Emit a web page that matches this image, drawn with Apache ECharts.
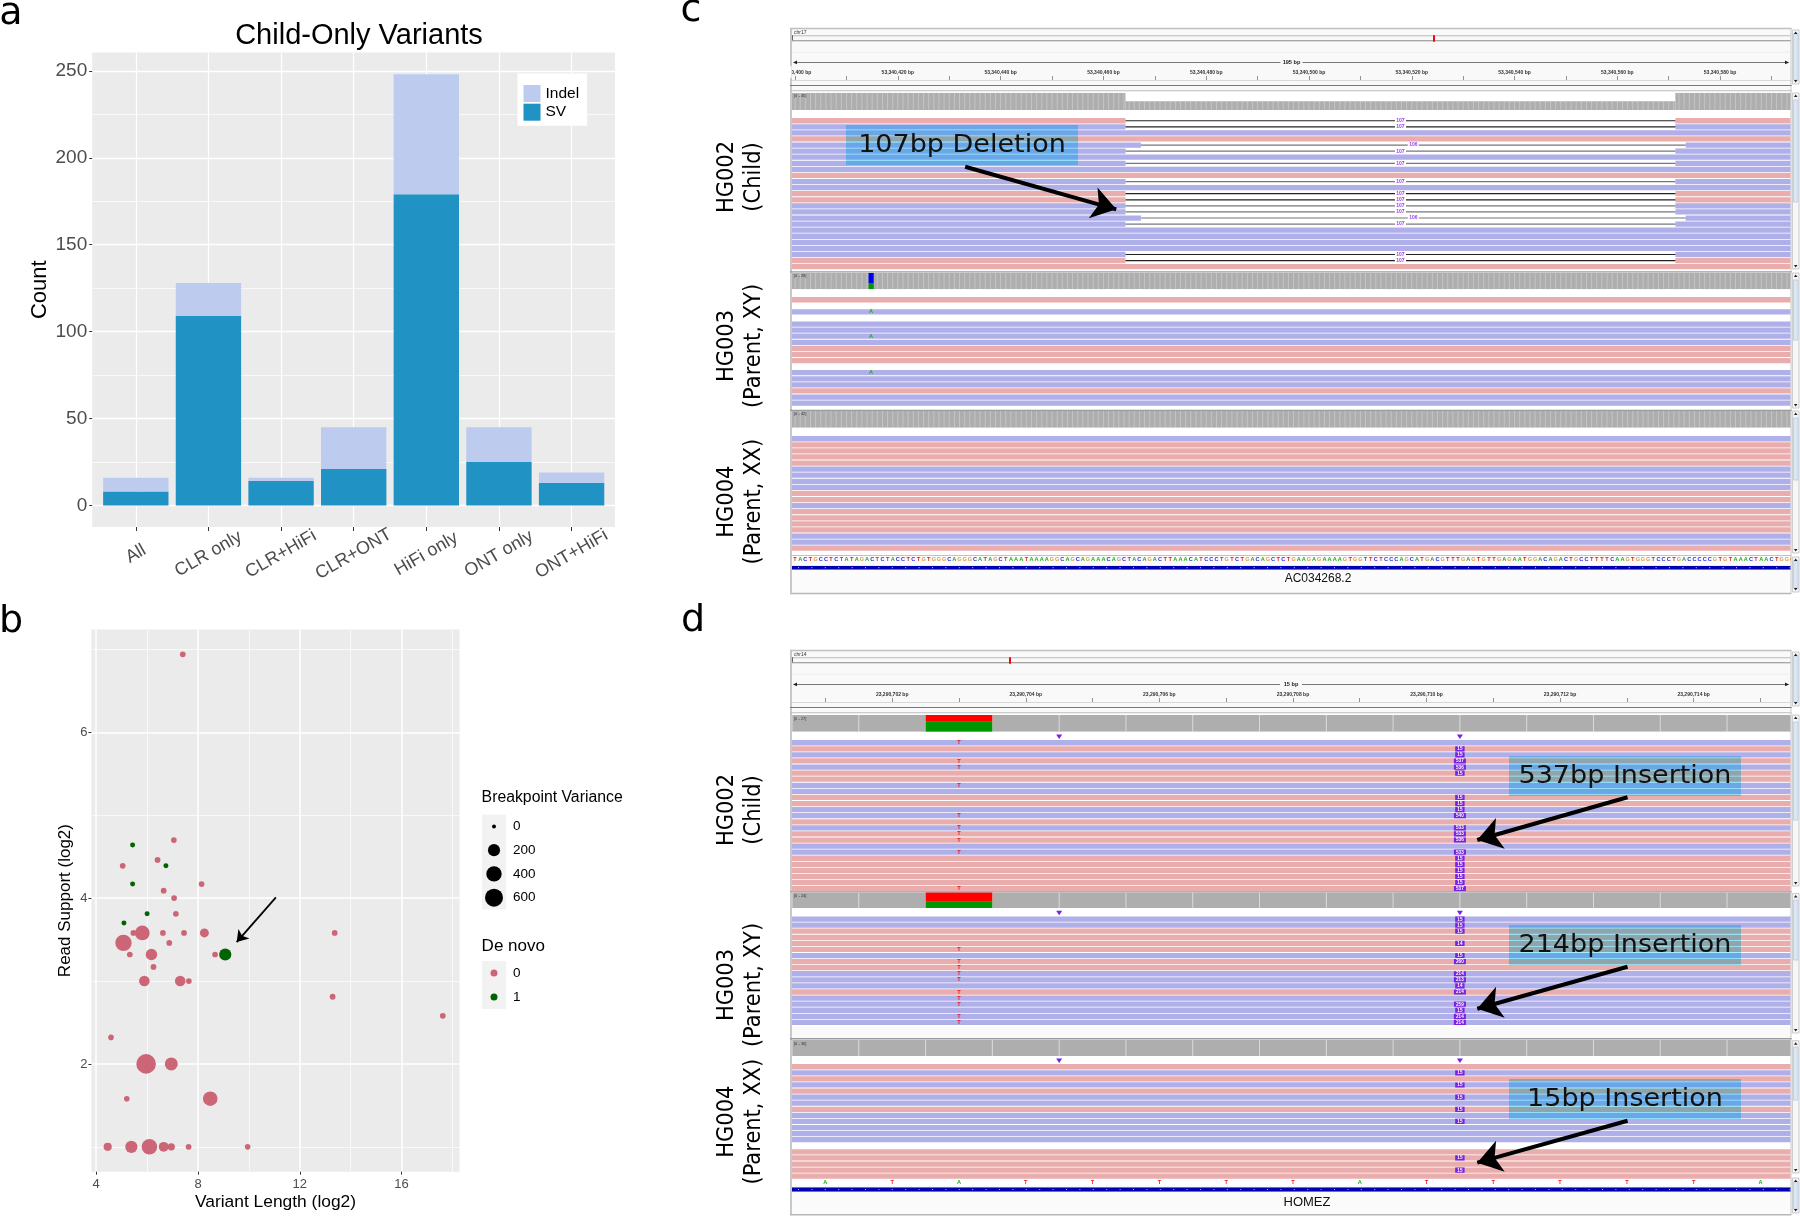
<!DOCTYPE html>
<html>
<head>
<meta charset="utf-8">
<title>Child-only variants</title>
<script src="https://cdn.jsdelivr.net/npm/echarts@6/dist/echarts.min.js"></script>
<style>
  html, body { margin: 0; background: #fff; }
  #chart { width: 1800px; height: 1216px; }
</style>
</head>
<body>
<div id="chart"></div>
<script>
// panel a
const categories = ["All", "CLR only", "CLR+HiFi", "CLR+ONT", "HiFi only", "ONT only", "ONT+HiFi"];
const svCounts = [8, 109, 14, 21, 179, 25, 13];
const indelCounts = [8, 19, 2, 24, 69, 20, 6];
const countTicks = [0, 50, 100, 150, 200, 250];
const countMinor = [25, 75, 125, 175, 225];

// panel b: [variant length log2, read support log2, breakpoint variance]
const notDeNovo = [
  [7.40, 6.94, 9], [7.05, 4.70, 9], [6.41, 4.46, 9], [5.04, 4.39, 9], [8.14, 4.17, 9],
  [6.65, 4.09, 9], [7.06, 4.00, 9], [7.13, 3.81, 9], [5.46, 3.58, 9], [5.81, 3.58, 350],
  [6.62, 3.58, 9], [7.45, 3.58, 9], [8.25, 3.58, 76], [13.37, 3.58, 9], [6.87, 3.46, 9],
  [5.07, 3.46, 463], [5.32, 3.32, 9], [6.17, 3.32, 168], [8.67, 3.32, 9], [6.25, 3.17, 9],
  [5.89, 3.00, 133], [7.30, 3.00, 133], [7.64, 3.00, 9], [13.29, 2.81, 10], [17.62, 2.58, 9],
  [4.58, 2.32, 8], [5.96, 2.00, 745], [6.95, 2.00, 248], [5.20, 1.58, 8], [8.48, 1.58, 337],
  [4.45, 1.00, 54], [5.38, 1.00, 206], [6.09, 1.00, 405], [6.65, 1.00, 103], [6.95, 1.00, 33],
  [7.63, 1.00, 9], [9.95, 1.00, 8]
];
const deNovo = [
  [5.43, 4.64, 3], [6.74, 4.39, 3], [5.43, 4.17, 3], [6.00, 3.81, 3], [5.09, 3.70, 3], [9.07, 3.32, 206]
];
const lengthTicks = [4, 8, 12, 16];
const lengthMinor = [6, 10, 14, 18];
const supportTicks = [2, 4, 6];
const supportMinor = [1, 3, 5, 7];
const varianceKeys = [0, 200, 400, 600];
const deNovoKeys = ["0", "1"];

// panel c: rows by strand, p = forward, b = reverse, . = empty row
const c002Rows = "pbbpbbbbbpbbppbbbbbbbbbpp";
const c003Rows = "p.b.bbbbppp.bbbpbb";
const c004Rows = "bppppbbbbppbppppbbp";
// [row, start, end, length]
const c002Dels = [
  [0, 464.3, 571.3, 107], [1, 464.3, 571.3, 107], [4, 467.3, 573.3, 106], [5, 464.3, 571.3, 107],
  [7, 464.3, 571.3, 107], [10, 464.3, 571.3, 107], [12, 464.3, 571.3, 107], [13, 464.3, 571.3, 107],
  [14, 464.3, 571.3, 107], [15, 464.3, 571.3, 107], [16, 467.3, 573.3, 106], [17, 464.3, 571.3, 107],
  [22, 464.3, 571.3, 107], [23, 464.3, 571.3, 107]
];
const c002LowMapq = [4, 5, 7, 10, 14, 15, 16, 17];
const c003Mismatch = [2, 6, 12];
// coverage: [start, end, from, to, base]
const c002Cover = [[399.4, 464.3, 0, 45, "N"], [464.3, 571.3, 0, 23, "N"], [571.3, 593.7, 0, 45, "N"]];
const c003Cover = [[399.4, 593.7, 0, 28, "N"], [414.3, 415.3, 0, 10, "A"], [414.3, 415.3, 10, 28, "C"]];
const c004Cover = [[399.4, 593.7, 0, 42, "N"]];
const cLabels = [400, 420, 440, 460, 480, 500, 520, 540, 560, 580];
const cTicks = [400, 410, 420, 430, 440, 450, 460, 470, 480, 490, 500, 510, 520, 530, 540, 550, 560, 570, 580, 590];
const cSequence = "TACTGCCTCTATAGACTCTACCTCTGTGGGCAGGGCATAGCTAAATAAAAGGCAGCAGAAACAGCTACAGACTTAAACATCCCTGTCTGACAGCTCTGAAGAGAAAAGTGGTTCTCCCAGCATGACGTTTGAGTGTTGAGAATGGACAGACTGCCTTTTCAAGTGGGTCCCTGACCCCCGTGTAAACTAACTGGG";

// panel d
const d002Rows = "bpbpbppbbppbbpbppbbpppppp";
const d003Rows = "bbppppbppbbbpbbbbb";
const d004Rows = "pbpbpbbpbbbbb.ppppp";
// [row, inserted bases]
const d002Ins = [
  [1, 15], [2, 15], [3, 537], [4, 536], [5, 15], [9, 15], [10, 15], [11, 15], [12, 540], [14, 533],
  [15, 533], [16, 536], [18, 533], [19, 15], [20, 15], [21, 15], [22, 15], [23, 15], [24, 537]
];
const d003Ins = [
  [0, 15], [1, 15], [2, 15], [4, 14], [6, 15], [7, 260], [9, 214], [10, 213], [11, 14], [12, 214],
  [14, 259], [15, 15], [16, 214], [17, 214]
];
const d004Ins = [[1, 15], [3, 15], [5, 15], [7, 15], [9, 15], [15, 15], [17, 15]];
const d002Mismatch = [0, 3, 4, 7, 12, 14, 15, 16, 18, 24];
const d003Mismatch = [5, 7, 8, 9, 10, 12, 13, 14, 16, 17];
const d002Cover = [[700.5, 715.45, 0, 27, "N"], [702.5, 703.5, 0, 17, "A"], [702.5, 703.5, 17, 27, "T"]];
const d003Cover = [[700.5, 715.45, 0, 24, "N"], [702.5, 703.5, 0, 10, "A"], [702.5, 703.5, 10, 24, "T"]];
const d004Cover = [[700.5, 715.45, 0, 30, "N"]];
const insMarkers = [704.5, 710.5];
const dLabels = [702, 704, 706, 708, 710, 712, 714];
const dTicks = [701, 702, 703, 704, 705, 706, 707, 708, 709, 710, 711, 712, 713, 714, 715];
const dSequence = "ATATTTTTATTTTTA";

const SANS = "Liberation Sans";
const DEJAVU = "DejaVu Sans";
const PINK = "#eaadad", BLUE = "#afafe9", PURPLE = "#7a22e0";
const BASE_COL = { A: "#16b016", C: "#2828f0", G: "#e09a3c", T: "#f01818", N: "#aeaeae" };
const COVER_COL = { A: "#009600", C: "#0000f0", G: "#d17105", T: "#ff0000", N: "#aeaeae" };
const cRange = [399.4, 593.7], dRange = [700.5, 715.45];
const IGV_LEFT = 792, IGV_WIDTH = 998.5, ROW_H = 6.08;

const grid = [], xAxis = [], yAxis = [], series = [], graphic = [];

function hidden(extra) {
  return Object.assign({ show: false, type: "value", scale: true }, extra);
}
function addGrid(rect, x, y) {
  const i = grid.length;
  grid.push(Object.assign({ containLabel: false }, rect));
  xAxis.push(Object.assign({ gridIndex: i }, x));
  yAxis.push(Object.assign({ gridIndex: i }, y));
  return { xAxisIndex: xAxis.length - 1, yAxisIndex: yAxis.length - 1, gridIndex: i };
}
function extraAxis(list, cfg) {
  list.push(cfg);
  return list.length - 1;
}
function rect(x, y, w, h, fill, z, stroke) {
  graphic.push({ type: "rect", silent: true, z: z || 0, shape: { x, y, width: w, height: h }, style: { fill, stroke: stroke || null, lineWidth: stroke ? 1 : 0 } });
}
function text(str, x, y, size, opts) {
  opts = opts || {};
  graphic.push({
    type: "text", silent: true, z: opts.z == null ? 60 : opts.z, x, y, rotation: opts.rotation || 0,
    scaleX: opts.scaleX || 1, scaleY: opts.scaleY || 1,
    style: {
      text: str, fill: opts.color || "#000", fontSize: size, fontFamily: opts.family || DEJAVU,
      fontWeight: opts.weight || "normal", align: opts.align || "center", verticalAlign: "middle",
      lineHeight: opts.lineHeight || size * 1.15
    }
  });
}
function tri(points, fill, z) {
  graphic.push({ type: "polygon", silent: true, z: z || 1, shape: { points }, style: { fill } });
}

// ---- panel a: the wide grid carries panel and gridlines, the inner one the bars
const aPanel = addGrid(
  { left: 92.2, top: 52.4, width: 522.8, height: 474.6, backgroundColor: "#ebebeb", borderWidth: 0, show: true },
  {
    type: "value", min: -0.6, max: 6.6,
    axisLine: { show: false, onZero: false },
    axisTick: { show: false, customValues: [0, 1, 2, 3, 4, 5, 6] },
    axisLabel: { show: false },
    splitLine: { show: true, lineStyle: { color: "#fff", width: 1.2 } }
  },
  {
    type: "value", min: -12.4, max: 260.6,
    name: "Count", nameLocation: "middle", nameGap: 41,
    nameTextStyle: { fontSize: 22, color: "#000", fontFamily: SANS },
    axisLine: { show: false, onZero: false },
    axisTick: { show: true, length: 3, customValues: countTicks, lineStyle: { color: "#333", width: 1 } },
    axisLabel: { customValues: countTicks, fontSize: 19, margin: 5, color: "#4d4d4d", fontFamily: SANS },
    splitLine: { show: true, lineStyle: { color: "#fff", width: 1.3 } }
  }
);
const aMinorY = extraAxis(yAxis, {
  gridIndex: aPanel.gridIndex, type: "value", min: -12.4, max: 260.6,
  axisLine: { show: false, onZero: false }, axisLabel: { show: false },
  axisTick: { show: false, customValues: countMinor },
  splitLine: { show: true, lineStyle: { color: "#fff", width: 0.7 } }
});
const aBars = addGrid(
  { left: 99.5, top: 52.4, width: 508.4, height: 474.6, borderWidth: 0, show: false },
  {
    type: "category", data: categories,
    axisLine: { show: false, onZero: false },
    axisTick: { show: true, alignWithLabel: true, length: 4, lineStyle: { color: "#333", width: 1 } },
    axisLabel: {
      interval: 0, rotate: 30, align: "center", verticalAlign: "middle", margin: 27,
      fontSize: 18, color: "#4d4d4d", fontFamily: SANS
    },
    splitLine: { show: false }
  },
  hidden({ min: -12.4, max: 260.6 })
);
series.push(
  { type: "line", xAxisIndex: aPanel.xAxisIndex, yAxisIndex: aPanel.yAxisIndex, data: [], silent: true },
  { type: "line", xAxisIndex: aPanel.xAxisIndex, yAxisIndex: aMinorY, data: [], silent: true },
  {
    name: "SV", type: "bar", stack: "a", barWidth: "90%", xAxisIndex: aBars.xAxisIndex, yAxisIndex: aBars.yAxisIndex,
    itemStyle: { color: "#2092c3" }, data: svCounts
  },
  {
    name: "Indel", type: "bar", stack: "a", barWidth: "90%", xAxisIndex: aBars.xAxisIndex, yAxisIndex: aBars.yAxisIndex,
    itemStyle: { color: "#bccbee" }, data: indelCounts
  }
);

// ---- panel b
const sizeFor = (v) => 4 + 14 * Math.sqrt(v / 600);
const bPos = addGrid(
  { left: 91.4, top: 629.5, width: 368.2, height: 542.2, backgroundColor: "#ebebeb", borderWidth: 0, show: true },
  {
    type: "value", min: 3.81, max: 18.28,
    name: "Variant Length (log2)", nameLocation: "middle", nameGap: 22,
    nameTextStyle: { fontSize: 17.4, color: "#000", fontFamily: SANS },
    axisLine: { show: false, onZero: false },
    axisTick: { show: true, length: 3, customValues: lengthTicks, lineStyle: { color: "#333" } },
    axisLabel: { customValues: lengthTicks, fontSize: 13, margin: 6, color: "#4d4d4d", fontFamily: SANS },
    splitLine: { show: true, lineStyle: { color: "#fff", width: 1.5 } }
  },
  {
    type: "value", min: 0.70, max: 7.24,
    name: "Read Support (log2)", nameLocation: "middle", nameGap: 18,
    nameTextStyle: { fontSize: 17, color: "#000", fontFamily: SANS },
    axisLine: { show: false, onZero: false },
    axisTick: { show: true, length: 3, customValues: supportTicks, lineStyle: { color: "#333" } },
    axisLabel: { customValues: supportTicks, fontSize: 13, margin: 4, color: "#4d4d4d", fontFamily: SANS },
    splitLine: { show: true, lineStyle: { color: "#fff", width: 1.5 } }
  }
);
const bMinorX = extraAxis(xAxis, {
  gridIndex: bPos.gridIndex, type: "value", min: 3.81, max: 18.28, axisLine: { show: false, onZero: false }, axisLabel: { show: false },
  axisTick: { show: false, customValues: lengthMinor }, splitLine: { show: true, lineStyle: { color: "#fff", width: 0.7 } }
});
const bMinorY = extraAxis(yAxis, {
  gridIndex: bPos.gridIndex, type: "value", min: 0.70, max: 7.24, axisLine: { show: false, onZero: false }, axisLabel: { show: false },
  axisTick: { show: false, customValues: supportMinor }, splitLine: { show: true, lineStyle: { color: "#fff", width: 0.7 } }
});
series.push(
  { type: "line", xAxisIndex: bMinorX, yAxisIndex: bMinorY, data: [], silent: true },
  {
    name: "De novo 0", type: "scatter", xAxisIndex: bPos.xAxisIndex, yAxisIndex: bPos.yAxisIndex,
    symbolSize: (d) => sizeFor(d[2]), itemStyle: { color: "#cc6677", opacity: 1 }, data: notDeNovo
  },
  {
    name: "De novo 1", type: "scatter", xAxisIndex: bPos.xAxisIndex, yAxisIndex: bPos.yAxisIndex,
    symbolSize: (d) => sizeFor(d[2]), itemStyle: { color: "#006400", opacity: 1 }, data: deNovo,
    markLine: {
      silent: true, animation: false, symbol: ["none", "arrow"], symbolSize: 11,
      lineStyle: { color: "#000", width: 1.8, type: "solid" }, label: { show: false },
      data: [[{ coord: [11.06, 4.01] }, { coord: [9.52, 3.47] }]]
    }
  }
);
text("Breakpoint Variance", 481.6, 797.6, 15.8, { family: SANS, align: "left" });
text("De novo", 481.6, 946.6, 17, { family: SANS, align: "left" });
const keyLabel = { fontSize: 13.5, margin: 7, color: "#000", fontFamily: SANS };
const sizeKey = addGrid(
  { left: 482, top: 814.5, width: 24, height: 95, backgroundColor: "#f2f2f2", borderWidth: 0, show: true },
  { type: "value", min: 0, max: 1, show: false },
  { type: "category", inverse: true, position: "right", data: varianceKeys.map(String), axisLine: { show: false }, axisTick: { show: false }, axisLabel: keyLabel, splitLine: { show: false } }
);
series.push({
  type: "scatter", xAxisIndex: sizeKey.xAxisIndex, yAxisIndex: sizeKey.yAxisIndex, silent: true,
  symbolSize: (d) => sizeFor(d[2]), itemStyle: { color: "#000", opacity: 1 },
  data: varianceKeys.map((v) => [0.5, String(v), v])
});
const novoKey = addGrid(
  { left: 482, top: 961, width: 24, height: 48, backgroundColor: "#f2f2f2", borderWidth: 0, show: true },
  { type: "value", min: 0, max: 1, show: false },
  { type: "category", inverse: true, position: "right", data: deNovoKeys, axisLine: { show: false }, axisTick: { show: false }, axisLabel: keyLabel, splitLine: { show: false } }
);
series.push({
  type: "scatter", xAxisIndex: novoKey.xAxisIndex, yAxisIndex: novoKey.yAxisIndex, silent: true, symbolSize: 7,
  itemStyle: { color: (p) => (p.dataIndex === 0 ? "#cc6677" : "#006400"), opacity: 1 },
  data: deNovoKeys.map((k) => [0.5, k])
});

// ---- IGV tracks
function renderCover(stripeOffset, stripeAlpha) {
  return function (params, api) {
    const s = api.value(0), e = api.value(1);
    const a = api.coord([s, api.value(3)]);
    const b = api.coord([e, api.value(2)]);
    const base = api.value(4);
    const children = [{ type: "rect", shape: { x: a[0], y: a[1], width: b[0] - a[0], height: b[1] - a[1] }, style: { fill: COVER_COL[base] } }];
    if (base === "N") {
      for (let k = Math.ceil(s - stripeOffset) + stripeOffset; k < e; k += 1) {
        const p = api.coord([k, 0])[0];
        children.push({ type: "rect", shape: { x: p - 0.5, y: a[1], width: 1, height: b[1] - a[1] }, style: { fill: "rgba(255,255,255," + stripeAlpha + ")" } });
      }
    }
    return { type: "group", children };
  };
}
function renderRead(params, api) {
  const a = api.coord([api.value(0), api.value(2)]);
  const b = api.coord([api.value(1), api.value(2) + 1]);
  return {
    type: "rect", shape: { x: a[0], y: a[1] + 0.4, width: b[0] - a[0], height: b[1] - a[1] - 0.8 },
    style: { fill: api.value(3) === "p" ? PINK : BLUE }
  };
}
function renderDel(params, api) {
  const a = api.coord([api.value(1), api.value(0) + 0.5]);
  const b = api.coord([api.value(2), api.value(0) + 0.5]);
  const mid = (a[0] + b[0]) / 2;
  return {
    type: "group",
    children: [
      { type: "rect", shape: { x: a[0], y: a[1] - 0.6, width: b[0] - a[0], height: 1.2 }, style: { fill: api.value(4) ? "#777" : "#222" } },
      { type: "rect", shape: { x: mid - 5.5, y: a[1] - 2.5, width: 11, height: 5 }, style: { fill: "#fff" } },
      { type: "text", x: mid, y: a[1], style: { text: String(api.value(3)), fontSize: 5, fontWeight: "bold", fontFamily: SANS, fill: "#9a3cf0", align: "center", verticalAlign: "middle" } }
    ]
  };
}
function renderIns(params, api) {
  const p = api.coord([api.value(0), api.value(1) + 0.5]);
  const label = String(api.value(2));
  const w = label.length > 2 ? 12 : 9.4;
  return {
    type: "group",
    children: [
      { type: "rect", shape: { x: p[0] - w / 2, y: p[1] - 2.6, width: w, height: 5.2 }, style: { fill: PURPLE } },
      { type: "text", x: p[0], y: p[1] + 0.2, style: { text: label, fontSize: 4.6, fontWeight: "bold", fontFamily: SANS, fill: "#fff", align: "center", verticalAlign: "middle" } }
    ]
  };
}
function renderBase(params, api) {
  const p = api.coord([api.value(0), api.value(1) + 0.5]);
  const base = api.value(2);
  return {
    type: "text", x: p[0], y: p[1],
    style: { text: base, fontSize: 5.6, fontWeight: "bold", fontFamily: SANS, fill: BASE_COL[base], align: "center", verticalAlign: "middle" }
  };
}
function renderGene(params, api) {
  const a = api.coord([api.value(0), 1]);
  const b = api.coord([api.value(1), 0]);
  const children = [{ type: "rect", shape: { x: a[0], y: a[1], width: b[0] - a[0], height: b[1] - a[1] }, style: { fill: "#0000b2" } }];
  for (let x = a[0] + 6; x < b[0]; x += 13.4) {
    children.push({ type: "rect", shape: { x, y: a[1] + (b[1] - a[1]) / 2 - 0.6, width: 1, height: 1.2 }, style: { fill: "#b0b0f0" } });
  }
  return { type: "group", children };
}
function xHidden(range) {
  return hidden({ min: range[0], max: range[1] });
}
function customSeries(pos, renderItem, data, z) {
  return { type: "custom", xAxisIndex: pos.xAxisIndex, yAxisIndex: pos.yAxisIndex, renderItem, data, silent: true, clip: true, z: z || 2, animation: false };
}
function addCoverage(range, top, height, cover, stripeOffset, stripeAlpha) {
  const maxDepth = Math.max(...cover.map((c) => c[3]));
  const pos = addGrid({ left: IGV_LEFT, top, width: IGV_WIDTH, height, borderWidth: 0, show: false }, xHidden(range), hidden({ min: 0, max: maxDepth }));
  series.push(customSeries(pos, renderCover(stripeOffset, stripeAlpha), cover));
  text("[0 - " + maxDepth + "]", IGV_LEFT + 2, top + 3.5, 4, { family: SANS, align: "left", color: "#333", z: 5 });
}
function addReads(range, top, strands, opts) {
  opts = opts || {};
  const pos = addGrid(
    { left: IGV_LEFT, top: top - ROW_H, width: IGV_WIDTH, height: (strands.length + 1) * ROW_H, borderWidth: 0, show: false },
    xHidden(range), hidden({ min: -1, max: strands.length, inverse: true })
  );
  const dels = opts.dels || [];
  const reads = [];
  strands.split("").forEach((s, row) => {
    if (s === ".") return;
    const del = dels.find((d) => d[0] === row);
    if (del) {
      reads.push([range[0], del[1], row, s], [del[2], range[1], row, s]);
    } else {
      reads.push([range[0], range[1], row, s]);
    }
  });
  series.push(customSeries(pos, renderRead, reads));
  if (dels.length) {
    series.push(customSeries(pos, renderDel, dels.map((d) => [d[0], d[1], d[2], d[3], (opts.lowMapq || []).includes(d[0]) ? 1 : 0]), 3));
  }
  if (opts.mismatch) {
    series.push(customSeries(pos, renderBase, opts.mismatch.rows.map((r) => [opts.mismatch.bp, r, opts.mismatch.base]), 3));
  }
  if (opts.ins) {
    series.push(customSeries(pos, renderIns, opts.ins.map((d) => [710.5, d[0], d[1]]), 3));
  }
  if (opts.markers) {
    series.push({
      type: "scatter", xAxisIndex: pos.xAxisIndex, yAxisIndex: pos.yAxisIndex, silent: true, animation: false, z: 3,
      symbol: "triangle", symbolRotate: 180, symbolSize: [6, 4.5], itemStyle: { color: PURPLE, opacity: 1 },
      data: opts.markers.map((m) => [m, -0.5])
    });
  }
  if (opts.arrow) {
    series.push({
      type: "custom", xAxisIndex: pos.xAxisIndex, yAxisIndex: pos.yAxisIndex, silent: true, z: 20, animation: false,
      renderItem: () => null, data: [[opts.arrow[0], opts.arrow[1]]],
      markLine: {
        silent: true, animation: false, symbol: ["none", "arrow"], symbolSize: 24, z: 20,
        lineStyle: { color: "#000", width: 4, type: "solid" }, label: { show: false },
        data: [[{ coord: [opts.arrow[0], opts.arrow[1]] }, { coord: [opts.arrow[2], opts.arrow[3]] }]]
      }
    });
  }
}
function addChrome(top, bottom, range, chrom, ideoX, spanLabel, spanX, prefix, labels, ticks) {
  const right = IGV_LEFT + IGV_WIDTH;
  rect(IGV_LEFT, top, IGV_WIDTH, bottom - top, "#fff", 0);
  rect(IGV_LEFT, top, IGV_WIDTH, 62, "#f9f9f9", 0);
  rect(IGV_LEFT - 2, top, 2, bottom - top, "#c8c8c8", 1);
  rect(IGV_LEFT - 2, top - 1, IGV_WIDTH + 3, 1.5, "#c0c0c0", 1);
  rect(IGV_LEFT - 2, bottom, IGV_WIDTH + 3, 1.5, "#b8b8b8", 1);
  rect(right, top, 1, bottom - top, "#c8c8c8", 1);
  text(chrom, IGV_LEFT + 2, top + 4, 5, { family: SANS, align: "left", color: "#333", z: 5 });
  rect(IGV_LEFT, top + 6.6, IGV_WIDTH, 0.9, "#bbb", 1);
  rect(IGV_LEFT, top + 11.6, IGV_WIDTH, 1, "#8a8a8a", 1);
  rect(IGV_LEFT, top + 6.6, 1, 5, "#666", 1);
  rect(ideoX - 1, top + 6.6, 2, 6.4, "#f00", 2);
  rect(IGV_LEFT, top + 23, IGV_WIDTH, 1, "#ededed", 1);
  // span ruler
  rect(IGV_LEFT + 2, top + 33.3, spanX - 11 - IGV_LEFT - 2, 0.9, "#777", 1);
  rect(spanX + 11, top + 33.3, right - spanX - 13, 0.9, "#777", 1);
  tri([[IGV_LEFT + 1, top + 33.7], [IGV_LEFT + 5, top + 31.9], [IGV_LEFT + 5, top + 35.5]], "#222", 2);
  tri([[right - 1.5, top + 33.7], [right - 5.5, top + 31.9], [right - 5.5, top + 35.5]], "#222", 2);
  text(spanLabel, spanX, top + 33.7, 5.6, { family: SANS, weight: "bold", color: "#222", z: 5 });
  rect(IGV_LEFT - 2, top + 56.2, IGV_WIDTH + 3, 1.2, "#777", 1);
  rect(IGV_LEFT - 2, top + 61.5, IGV_WIDTH + 3, 1, "#bdbdbd", 1);
  // genome ruler is a real axis
  addGrid(
    { left: IGV_LEFT, top: top + 51.3, width: IGV_WIDTH, height: 2, borderWidth: 0, show: false },
    {
      type: "value", position: "top", min: range[0], max: range[1],
      axisLine: { show: true, onZero: false, lineStyle: { color: "#d8d8d8", width: 1 } },
      axisTick: { show: true, length: 4, customValues: ticks, lineStyle: { color: "#777", width: 0.8 } },
      axisLabel: {
        customValues: labels, formatter: (v) => prefix + v + " bp", margin: 5, fontSize: 5, fontWeight: "bold",
        color: "#333", fontFamily: SANS, hideOverlap: false
      },
      splitLine: { show: false }
    },
    hidden({ min: 0, max: 1 })
  );
  series.push({ type: "line", xAxisIndex: xAxis.length - 1, yAxisIndex: yAxis.length - 1, data: [], silent: true });
}
function scrollbar(y0, y1, thumb0, thumb1) {
  rect(1792.4, y0, 6.6, y1 - y0, "#f5f6f8", 1, "#c9c9c9");
  rect(1793.4, thumb0, 4.6, thumb1 - thumb0, "#dbe6f4", 2, "#c0d0e6");
  tri([[1795.7, y0 + 1.5], [1793.9, y0 + 4], [1797.5, y0 + 4]], "#222", 3);
  tri([[1795.7, y1 - 1.5], [1793.9, y1 - 4], [1797.5, y1 - 4]], "#222", 3);
}
function addSequence(range, y, seq, startBp) {
  const pos = addGrid({ left: IGV_LEFT, top: y - 3, width: IGV_WIDTH, height: 6, borderWidth: 0, show: false }, xHidden(range), hidden({ min: 0, max: 1 }));
  series.push(customSeries(pos, renderBase, seq.split("").map((b, i) => [startBp + i, 0, b])));
}
function addGene(range, top, height) {
  const pos = addGrid({ left: IGV_LEFT, top, width: IGV_WIDTH, height, borderWidth: 0, show: false }, xHidden(range), hidden({ min: 0, max: 1 }));
  series.push(customSeries(pos, renderGene, [[range[0], range[1]]]));
}
function annotation(x, y, label) {
  graphic.push({ type: "rect", silent: true, z: 40, shape: { x, y, width: 232, height: 40 }, style: { fill: "#9cf2ff", blend: "multiply" } });
  text(label, x + 116, y + 20.5, 25, { color: "#111", scaleX: 1.08 });
}

// panel c
addChrome(28.7, 592.7, cRange, "chr17", 1434, "195 bp", 1291.5, "53,340,", cLabels, cTicks);
rect(IGV_LEFT, 557, IGV_WIDTH, 35.7, "#fbfbfb", 0);
addCoverage(cRange, 92.7, 17.3, c002Cover, 0, 0.28);
addCoverage(cRange, 272.7, 16.6, c003Cover, 0, 0.28);
addCoverage(cRange, 410.7, 17, c004Cover, 0, 0.28);
addReads(cRange, 117.7, c002Rows, { dels: c002Dels, lowMapq: c002LowMapq, arrow: [433.1, 8.06, 462.5, 15.07] });
addReads(cRange, 296.7, c003Rows, { mismatch: { rows: c003Mismatch, bp: 414.8, base: "A" } });
addReads(cRange, 435.7, c004Rows);
addSequence(cRange, 559.3, cSequence, 400);
addGene(cRange, 565.7, 4);
text("AC034268.2", 1318, 578.5, 12, { family: SANS, color: "#111" });
rect(IGV_LEFT - 2, 271.2, IGV_WIDTH + 3, 1.2, "#9a9a9a", 5);
rect(IGV_LEFT - 2, 409.7, IGV_WIDTH + 3, 1.2, "#9a9a9a", 5);
rect(IGV_LEFT - 2, 555, IGV_WIDTH + 3, 1, "#c0c0c0", 5);
rect(770, 66, 21.5, 12, "#fff", 55);
scrollbar(30, 84, 34, 80);
scrollbar(93, 269, 100, 202);
scrollbar(273, 408, 280, 340);
scrollbar(411, 553, 418, 480);
scrollbar(557, 592, 561, 588);
annotation(846, 125, "107bp Deletion");

// panel d
addChrome(650.7, 1214, dRange, "chr14", 1010, "15 bp", 1291, "23,290,", dLabels, dTicks);
rect(IGV_LEFT, 1185, IGV_WIDTH, 29, "#fbfbfb", 0);
rect(IGV_LEFT, 1027, IGV_WIDTH, 11, "#f9f9f9", 0);
addCoverage(dRange, 715, 16.7, d002Cover, 0.5, 0.55);
addCoverage(dRange, 892.3, 15.7, d003Cover, 0.5, 0.55);
addCoverage(dRange, 1040, 16, d004Cover, 0.5, 0.55);
addReads(dRange, 739.7, d002Rows, { ins: d002Ins, mismatch: { rows: d002Mismatch, bp: 703, base: "T" }, markers: insMarkers, arrow: [713.01, 9.47, 710.76, 16.5] });
addReads(dRange, 916, d003Rows, { ins: d003Ins, mismatch: { rows: d003Mismatch, bp: 703, base: "T" }, markers: insMarkers, arrow: [713.01, 8.34, 710.76, 15.25] });
addReads(dRange, 1063.7, d004Rows, { ins: d004Ins, markers: insMarkers, arrow: [713.01, 9.38, 710.76, 16.28] });
addSequence(dRange, 1182, dSequence, 701);
addGene(dRange, 1187.3, 4.4);
text("HOMEZ", 1307, 1202, 13, { family: SANS, color: "#111" });
rect(IGV_LEFT - 2, 891.3, IGV_WIDTH + 3, 1, "#9a9a9a", 5);
rect(IGV_LEFT - 2, 1038, IGV_WIDTH + 3, 1.5, "#9a9a9a", 5);
scrollbar(652, 706, 656, 702);
scrollbar(715, 886, 722, 820);
scrollbar(893.5, 1033, 900, 960);
scrollbar(1040.7, 1173, 1047, 1100);
scrollbar(1178, 1213, 1182, 1209);
annotation(1509, 756, "537bp Insertion");
annotation(1509, 925, "214bp Insertion");
annotation(1509, 1079, "15bp Insertion");

// sample labels and panel letters
const sideOpts = { rotation: Math.PI / 2, lineHeight: 24, scaleY: 1.12 };
[["HG002\n(Child)", 177], ["HG003\n(Parent, XY)", 346], ["HG004\n(Parent, XX)", 501.7],
 ["HG002\n(Child)", 810], ["HG003\n(Parent, XY)", 985], ["HG004\n(Parent, XX)", 1121.7]].forEach((s) => {
  text(s[0], 740, s[1], 21, sideOpts);
});
text("a", 11, 14, 38);
text("b", 11, 622, 38);
text("c", 691, 11, 38);
text("d", 693, 621, 38);

const chart = echarts.init(document.getElementById("chart"));
chart.setOption({
  animation: false,
  backgroundColor: "#fff",
  title: {
    text: "Child-Only Variants", left: 354, top: 16, textAlign: "center",
    textStyle: { fontSize: 29, fontWeight: "normal", color: "#000", fontFamily: SANS }
  },
  legend: {
    data: ["Indel", "SV"], orient: "vertical", icon: "rect", left: 517.5, top: 73.5, backgroundColor: "#fff",
    padding: [11.5, 8, 5, 6], itemWidth: 17, itemHeight: 17, itemGap: 1.7, selectedMode: false,
    textStyle: { fontSize: 15.5, color: "#000", fontFamily: SANS }
  },
  grid, xAxis, yAxis, series, graphic: { elements: graphic }
});
</script>
</body>
</html>
